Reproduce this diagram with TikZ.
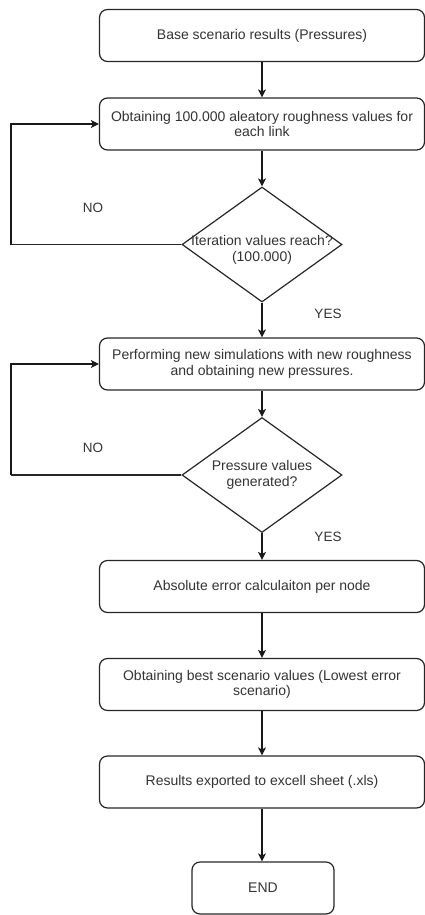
\documentclass[tikz,border=0pt]{standalone}
\usepackage{fontspec}
\setmainfont{Liberation Sans}
\usetikzlibrary{arrows.meta,shapes.geometric}
\begin{document}
\begin{tikzpicture}[x=1pt,y=-1pt,
  every node/.style={font=\fontsize{14}{15.5}\selectfont, text=black!80},
  procbox/.style={draw=black!85, line width=1.2pt, rounded corners=8pt, minimum width=325pt, minimum height=52pt, inner sep=0pt, align=center},
  decbox/.style={draw=black!85, line width=1.2pt, diamond, minimum width=160pt, minimum height=115pt, inner sep=0pt},
  endbox/.style={draw=black!85, line width=1.2pt, rounded corners=8pt, minimum width=142pt, minimum height=52pt, inner sep=0pt, align=center},
  flow/.style={draw=black!90, line width=1.1pt, -{Stealth[length=8pt,width=8pt,inset=2pt]}},
  loopline/.style={draw=black!85, line width=1.1pt},
  lbl/.style={font=\fontsize{13.5}{15}\selectfont}
]
\useasboundingbox (0,0) rectangle (425,915);
\node[procbox] (b1) at (262,35.5) {Base scenario results (Pressures)};
\node[procbox] (b2) at (262,124) {Obtaining 100.000 aleatory roughness values for\\each link};
\node[decbox] (d1) at (262,244.5) {};
\node[align=center, inner sep=0pt] (d1t) at (262,250) {Iteration values reach?\\(100.000)};
\node[procbox] (b3) at (262,364) {Performing new simulations with new roughness\\and obtaining new pressures.};
\node[decbox] (d2) at (262,475) {};
\node[align=center, inner sep=0pt] (d2t) at (262,475) {Pressure values\\generated?};
\node[procbox] (b4) at (262,586.5) {Absolute error calculaiton per node};
\node[procbox] (b5) at (262,684.5) {Obtaining best scenario values (Lowest error\\scenario)};
\node[procbox] (b6) at (262,782) {Results exported to excell sheet (.xls)};
\node[endbox] (e) at (263,888) {END};

\draw[flow] (b1) -- (b2);
\draw[flow] (b2) -- (d1);
\draw[flow] (d1) -- (b3);
\draw[flow] (b3) -- (d2);
\draw[flow] (d2) -- (b4);
\draw[flow] (b4) -- (b5);
\draw[flow] (b5) -- (b6);
\draw[flow] (b6.south) -- (e.north -| b6.south);

\coordinate (l1) at (11,244.5);
\coordinate (l2) at (11,475);
\draw[loopline] (d1.west) -- (l1);
\draw[flow] (l1) |- (b2.west);
\draw[loopline] (d2.west) -- (l2);
\draw[flow] (l2) |- (b3.west);

\node[lbl] (no1) at (93,208) {NO};
\node[lbl] (yes1) at (328,314) {YES};
\node[lbl] (no2) at (93,448) {NO};
\node[lbl] (yes2) at (328,537) {YES};
\end{tikzpicture}
\end{document}
